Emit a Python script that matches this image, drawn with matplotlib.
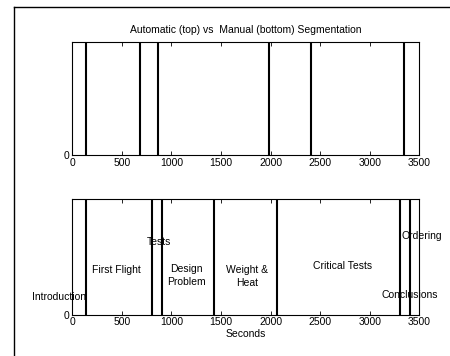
import matplotlib
matplotlib.use('Agg')
import matplotlib.pyplot as plt
from matplotlib.lines import Line2D

# segment boundaries in seconds
auto_bounds = [138, 686, 861, 1981, 2408, 3349]
manual_bounds = [138, 800, 905, 1426, 2065, 3302, 3406]

# topic labels for the manual segmentation (x in seconds, y in axis units)
topics = ['Introduction', 'First Flight', 'Tests', 'Design\nProblem',
          'Weight &\nHeat', 'Critical Tests', 'Conclusions', 'Ordering']
topic_x = [-137, 441, 871, 1154, 1759, 2727, 3403, 3524]
topic_y = [0.15, 0.385, 0.63, 0.34, 0.33, 0.42, 0.17, 0.68]

plt.rcParams['font.family'] = ['Liberation Sans', 'DejaVu Sans']
plt.rcParams['font.size'] = 7.5

W, H = 450, 356
fig = plt.figure(figsize=(W / 100, H / 100), dpi=100)

def box(x0, y0, x1, y1):
    return [x0 / W, 1 - y1 / H, (x1 - x0) / W, (y1 - y0) / H]

ax1 = fig.add_axes(box(72.3, 41.7, 419.3, 155))
ax2 = fig.add_axes(box(72.3, 199.3, 419.3, 314.7))

for ax, bounds in ((ax1, auto_bounds), (ax2, manual_bounds)):
    for b in bounds:
        ax.axvline(b, color='black', lw=1.5)
    ax.set_xlim(0, 3500)
    ax.set_ylim(0, 1)
    ax.set_xticks(range(0, 3501, 500))
    ax.set_yticks([0])
    ax.tick_params(direction='in', length=3, width=0.6, top=True, right=True,
                   pad=2, labelsize=7.5)
    for s in ax.spines.values():
        s.set_linewidth(0.8)

ax1.set_title('Automatic (top) vs  Manual (bottom) Segmentation',
              fontsize=7.5, pad=6)

for t, x, y in zip(topics, topic_x, topic_y):
    ax2.text(x, y, t, ha='center', va='center', fontsize=7.5,
             linespacing=1.3, clip_on=False)
ax2.set_xlabel('Seconds', labelpad=1)

# frame lines along the left and top edges
fig.add_artist(Line2D([14 / W, 14 / W], [0, 1 - 7 / H], color='black', lw=1))
fig.add_artist(Line2D([14 / W, 1], [1 - 7 / H, 1 - 7 / H], color='black', lw=1))

fig.savefig('out.png', dpi=100)
